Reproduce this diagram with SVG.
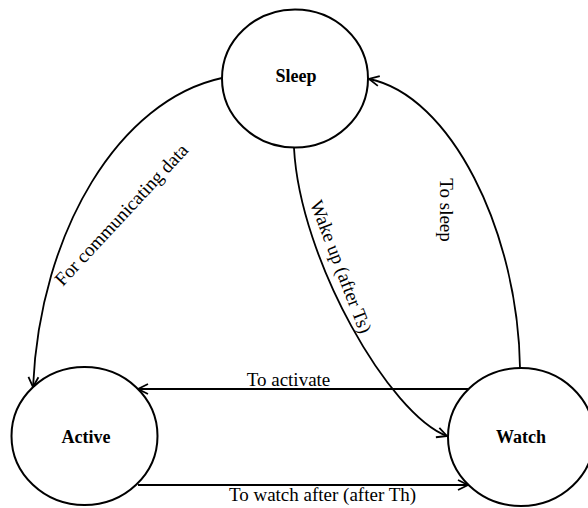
<svg xmlns="http://www.w3.org/2000/svg" width="588" height="508" viewBox="0 0 588 508">
<style>
.node ellipse{fill:#fff;stroke:#000;stroke-width:2}
.node text{font-family:"Liberation Serif","Times New Roman",serif;font-size:18px;font-weight:bold;text-anchor:middle;fill:#000}
.edges path{fill:none;stroke:#000;stroke-width:1.8}
.lbl{font-family:"Liberation Serif","Times New Roman",serif;font-size:19px;text-anchor:middle;fill:#000}
</style>
<defs>
<marker id="arr" viewBox="-12 -7 14 14" refX="0" refY="0" markerWidth="14" markerHeight="14" markerUnits="userSpaceOnUse" orient="auto">
<path d="M-10,-5 L0,0 L-10,5" fill="none" stroke="#000" stroke-width="1.8"/>
</marker>
</defs>
<rect width="588" height="508" fill="#fff"/>
<g class="edges">
<path d="M222,78 C120,100 40,230 33,387" marker-end="url(#arr)"/>
<path d="M294,148 C300,260 390,415 447,436" marker-end="url(#arr)"/>
<path d="M520,368 C518,230 450,95 369,79" marker-end="url(#arr)"/>
<path d="M468,389 L138,389" marker-end="url(#arr)"/>
<path d="M138,485 L468,485" marker-end="url(#arr)"/>
<text class="lbl" transform="translate(126,219) rotate(-47)">For communicating data</text>
<text class="lbl" transform="translate(335,269) rotate(69)">Wake up (after Ts)</text>
<text class="lbl" transform="translate(440,210) rotate(90)">To sleep</text>
<text class="lbl" x="288.5" y="386">To activate</text>
<text class="lbl" x="322.5" y="501">To watch after (after Th)</text>
</g>
<g id="sleep" class="node"><ellipse cx="295" cy="78.5" rx="73" ry="69"/><text x="296" y="82">Sleep</text></g>
<g id="active" class="node"><ellipse cx="84.5" cy="436" rx="73" ry="69"/><text x="86" y="443">Active</text></g>
<g id="watch" class="node"><ellipse cx="521" cy="437" rx="73" ry="69"/><text x="521" y="443">Watch</text></g>
</svg>
